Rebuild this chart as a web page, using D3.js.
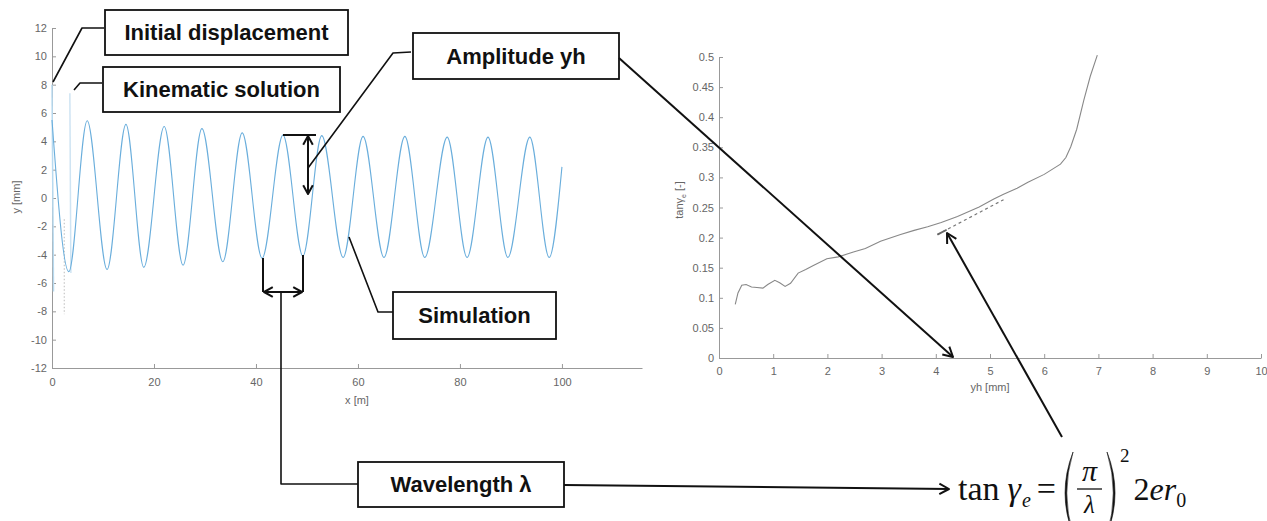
<!DOCTYPE html>
<html>
<head>
<meta charset="utf-8">
<script src="https://cdn.jsdelivr.net/npm/d3@7"></script>
<style>
  body { margin: 0; background: #fff; }
  svg { display: block; }
  .axis text { font-family: "Liberation Sans", Arial, sans-serif; font-size: 11px; fill: #666; }
  .axis path, .axis line { stroke: #999; }
  .lbl { font-family: "Liberation Sans", Arial, sans-serif; font-size: 11px; fill: #666; }
  .box text { font-family: "Liberation Sans", Arial, sans-serif; font-size: 22px; font-weight: bold; fill: #111; }
  .math text { font-family: "Liberation Serif", "Times New Roman", serif; fill: #111; }
</style>
</head>
<body>
<svg id="fig" width="1267" height="521"></svg>
<script>
// ---- left panel: y(x) of the pipe, crest / trough readings
const simX = [0, 3.3, 6.9, 10.8, 14.5, 18.0, 22.0, 25.7, 29.4, 33.5, 37.3, 41.2, 45.3, 49.2, 52.9,
  57.1, 61.0, 65.1, 69.2, 73.1, 77.5, 81.4, 85.5, 89.4, 93.7, 97.5, 100];
const simY = [5.5, -5.2, 5.45, -5.05, 5.2, -4.9, 5.05, -4.75, 4.9, -4.5, 4.6, -4.25, 4.45, -4.1, 4.4,
  -4.2, 4.35, -4.2, 4.35, -4.2, 4.3, -4.2, 4.3, -4.2, 4.3, -4.2, 2.2];
const initX = [0, 0.3];
const initY = [8, -6.6];
const kinX = [3.5, 3.7];
const kinY = [7.4, -5.3];
const dotX = [2.4, 2.4];
const dotY = [-1.5, -8.2];
const leftXTicks = [0, 20, 40, 60, 80, 100];
const leftYTicks = [-12, -10, -8, -6, -4, -2, 0, 2, 4, 6, 8, 10, 12];

// ---- right panel: tan(gamma_e) vs yh
const yhVals = [0.3, 0.35, 0.42, 0.5, 0.6, 0.7, 0.81, 0.9, 1.03, 1.12, 1.22, 1.32, 1.46, 1.6, 1.75, 1.99,
  2.2, 2.48, 2.7, 2.98, 3.35, 3.6, 3.85, 4.1, 4.4, 4.8, 5.07, 5.25, 5.5, 5.7, 6.0, 6.3, 6.4, 6.49, 6.6,
  6.73, 6.85, 6.98];
const tanVals = [0.089, 0.108, 0.121, 0.122, 0.118, 0.117, 0.116, 0.122, 0.129, 0.125, 0.119, 0.124,
  0.141, 0.147, 0.154, 0.165, 0.168, 0.176, 0.182, 0.194, 0.205, 0.212, 0.218, 0.225, 0.235, 0.251,
  0.264, 0.272, 0.282, 0.292, 0.305, 0.322, 0.333, 0.351, 0.38, 0.428, 0.468, 0.503];
const fitX = [4.03, 5.25];
const fitY = [0.205, 0.263];
const rightXTicks = [0, 1, 2, 3, 4, 5, 6, 7, 8, 9, 10];
const rightYTicks = ["0", "0.05", "0.1", "0.15", "0.2", "0.25", "0.3", "0.35", "0.4", "0.45", "0.5"];

const svg = d3.select("#fig");

// ---------- left panel ----------
const xL = d3.scaleLinear().domain([0, 115.7]).range([52, 642]);
const yL = d3.scaleLinear().domain([-12, 12]).range([368, 28]);

svg.append("g").attr("class", "axis").attr("transform", "translate(0,368)")
  .call(d3.axisBottom(xL).tickValues(leftXTicks).tickSizeInner(-4).tickSizeOuter(0).tickPadding(10)
    .tickFormat((d) => String(d)));
svg.append("g").attr("class", "axis").attr("transform", "translate(52,0)")
  .call(d3.axisLeft(yL).tickValues(leftYTicks).tickSizeInner(-4).tickSizeOuter(0).tickPadding(5)
    .tickFormat((d) => String(d)));

svg.append("text").attr("class", "lbl").attr("x", 357).attr("y", 404)
  .attr("text-anchor", "middle").text("x [m]");
svg.append("text").attr("class", "lbl").attr("transform", "translate(20,197) rotate(-90)")
  .attr("text-anchor", "middle").text("y [mm]");

const lineL = (xs, ys, curve) => d3.line()
  .x((d, i) => xL(xs[i])).y((d, i) => yL(ys[i])).curve(curve || d3.curveLinear)(xs);

svg.append("path").attr("d", lineL(initX, initY)).attr("fill", "none")
  .attr("stroke", "#b8daf0").attr("stroke-width", 1.5);
svg.append("path").attr("d", lineL(kinX, kinY)).attr("fill", "none")
  .attr("stroke", "#cfe4f3").attr("stroke-width", 1.5);
svg.append("path").attr("d", lineL(dotX, dotY)).attr("fill", "none")
  .attr("stroke", "#bbb").attr("stroke-width", 1).attr("stroke-dasharray", "1.5 2");
svg.append("path").attr("d", lineL(simX, simY, d3.curveMonotoneX)).attr("fill", "none")
  .attr("stroke", "#6aaedc").attr("stroke-width", 1.1);

// ---------- right panel ----------
const xR = d3.scaleLinear().domain([0, 10]).range([719, 1261]);
const yR = d3.scaleLinear().domain([0, 0.5]).range([358, 57]);

svg.append("g").attr("class", "axis").attr("transform", "translate(0,358)")
  .call(d3.axisBottom(xR).tickValues(rightXTicks).tickSizeInner(-4).tickSizeOuter(0).tickPadding(9)
    .tickFormat((d) => String(d)));
svg.append("g").attr("class", "axis").attr("transform", "translate(719,0)")
  .call(d3.axisLeft(yR).tickValues(rightYTicks.map(Number)).tickSizeInner(-4).tickSizeOuter(0).tickPadding(5)
    .tickFormat((d, i) => rightYTicks[i]));

svg.append("text").attr("class", "lbl").attr("x", 990).attr("y", 391)
  .attr("text-anchor", "middle").text("yh [mm]");
const ylab = svg.append("text").attr("class", "lbl").attr("transform", "translate(683,200) rotate(-90)")
  .attr("text-anchor", "middle");
ylab.append("tspan").text("tan");
ylab.append("tspan").text("γ");
ylab.append("tspan").attr("font-size", 7).attr("dy", 3).text("e");
ylab.append("tspan").attr("dy", -3).text(" [-]");

const lineR = (xs, ys) => d3.line().x((d, i) => xR(xs[i])).y((d, i) => yR(ys[i]))(xs);
svg.append("path").attr("d", lineR(yhVals, tanVals)).attr("fill", "none")
  .attr("stroke", "#888").attr("stroke-width", 1.1);
svg.append("path").attr("d", lineR(fitX, fitY)).attr("fill", "none")
  .attr("stroke", "#777").attr("stroke-width", 1.2).attr("stroke-dasharray", "3 3");
svg.append("path").attr("d", lineR(fitX.map((v, i) => i ? v - 1.05 : v), fitY.map((v, i) => i ? v - 0.05 : v)))
  .attr("fill", "none").attr("stroke", "#666").attr("stroke-width", 1.8);

// ---------- annotations ----------
const ann = svg.append("g");

function poly(pts, w) {
  ann.append("path").attr("d", d3.line()(pts)).attr("fill", "none")
    .attr("stroke", "#111").attr("stroke-width", w || 1.6).attr("stroke-linejoin", "round");
}
function head(tip, from, len) {
  const a = Math.atan2(tip[1] - from[1], tip[0] - from[0]);
  const l = len || 11;
  const p1 = [tip[0] - l * Math.cos(a - 0.5), tip[1] - l * Math.sin(a - 0.5)];
  const p2 = [tip[0] - l * Math.cos(a + 0.5), tip[1] - l * Math.sin(a + 0.5)];
  poly([p1, tip, p2], 2);
}
function arrow(from, to) {
  poly([from, to], 2);
  head(to, from);
}
function box(x0, y0, x1, y1, label) {
  const b = ann.append("g").attr("class", "box");
  b.append("rect").attr("x", x0).attr("y", y0).attr("width", x1 - x0).attr("height", y1 - y0)
    .attr("fill", "#fff").attr("stroke", "#111").attr("stroke-width", 1.8);
  b.append("text").attr("x", (x0 + x1) / 2).attr("y", (y0 + y1) / 2).attr("dy", "0.36em")
    .attr("text-anchor", "middle").text(label);
}

// initial displacement & kinematic solution
poly([[53, 82], [82, 28], [104, 28]]);
box(105, 10, 348, 55, "Initial displacement");
poly([[74, 90], [80, 83], [102, 83]]);
box(103, 67, 340, 112, "Kinematic solution");

// amplitude
poly([[283, 135], [316, 135]], 1.8);
poly([[308, 136], [308, 194]], 2);
head([308, 136], [308, 194], 10);
head([308, 194], [308, 136], 10);
poly([[308, 168], [393, 53], [411, 52]]);
box(413, 33, 619, 79, "Amplitude yh");
arrow([619, 58], [953, 357]);

// simulation
poly([[349, 237], [378, 312], [393, 312]]);
box(393, 292, 556, 339, "Simulation");

// wavelength
poly([[263, 258], [263, 292]], 2);
poly([[303, 255], [303, 292]], 2);
poly([[264, 292], [302, 292]], 2);
head([264, 292], [302, 292], 10);
head([302, 292], [264, 292], 10);
poly([[281, 292], [281, 484], [358, 484]]);
box(358, 462, 564, 507, "Wavelength λ");
arrow([564, 485], [949, 489]);

// formula arrow to the dashed fit
arrow([1062, 437], [947, 233]);

// ---------- formula: tan γe = (π/λ)^2 2 e r0 ----------
const m = ann.append("g").attr("class", "math");
const base = 500;
let cx = 958;
function put(str, size, opts) {
  const o = opts || {};
  const t = m.append("text").attr("x", cx).attr("y", o.y || base).attr("font-size", size)
    .attr("font-style", o.italic ? "italic" : "normal").text(str);
  cx += t.node().getComputedTextLength() + (o.gap || 0);
  return t;
}
put("tan", 34, { gap: 8 });
put("γ", 34, { italic: true, gap: 1 });
put("e", 20, { italic: true, y: base + 7, gap: 6 });
put("=", 34, { gap: 6 });
const pTop = 452, pBot = 534;
function paren(x, dir) {
  const mid = (pTop + pBot) / 2;
  const p = d3.path();
  p.moveTo(x, pTop);
  p.quadraticCurveTo(x - dir * 16, mid, x, pBot);
  p.quadraticCurveTo(x - dir * 12.5, mid, x, pTop);
  m.append("path").attr("d", p.toString()).attr("fill", "#111").attr("stroke", "#111").attr("stroke-width", 0.6);
}
paren(cx + 11, 1);
cx += 15;
const fracX = cx;
m.append("line").attr("x1", fracX).attr("x2", fracX + 25).attr("y1", 489).attr("y2", 489)
  .attr("stroke", "#111").attr("stroke-width", 1.3);
m.append("text").attr("x", fracX + 12.5).attr("y", 481).attr("font-size", 30)
  .attr("font-style", "italic").attr("text-anchor", "middle").text("π");
m.append("text").attr("x", fracX + 12.5).attr("y", 513).attr("font-size", 25)
  .attr("font-style", "italic").attr("text-anchor", "middle").text("λ");
cx = fracX + 25;
paren(cx + 5, -1);
cx += 18;
put("2", 19, { y: 462, gap: 4 });
put("2", 32);
put("er", 32, { italic: true });
put("0", 20, { y: base + 7 });
</script>
</body>
</html>
